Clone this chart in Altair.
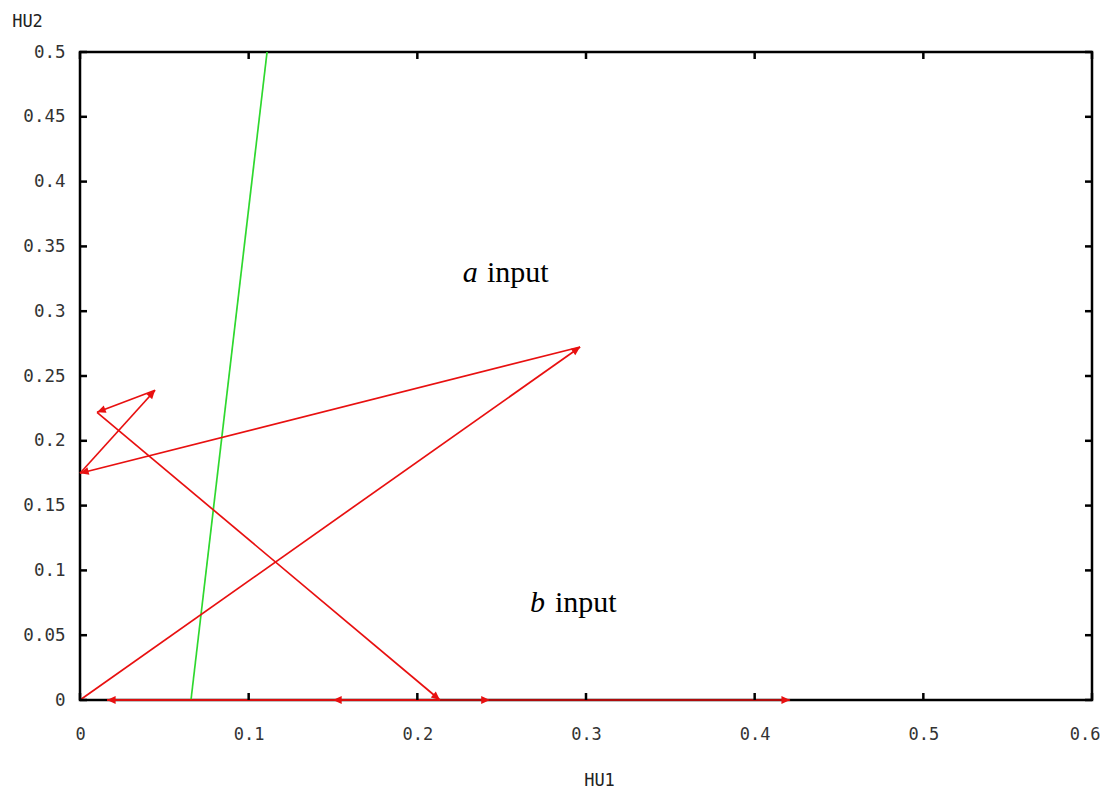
import math
import altair as alt
import pandas as pd

# ---- data ----
path_x = [0.0, 0.2965, 0.0, 0.0445, 0.0101, 0.2134, 0.150, 0.016, 0.243, 0.421]
path_y = [0.0, 0.2724, 0.175, 0.239, 0.222, 0.0, 0.0, 0.0, 0.0, 0.0]

green_x = [0.0658, 0.1109]
green_y = [0.0, 0.5]

x_ticks = [0, 0.1, 0.2, 0.3, 0.4, 0.5, 0.6]
y_ticks = [0, 0.05, 0.1, 0.15, 0.2, 0.25, 0.3, 0.35, 0.4, 0.45, 0.5]

label_italic = ["a", "b"]
label_rest = ["input", "input"]
label_x_italic = [0.227, 0.2668]
label_x_rest = [0.2413, 0.2816]
label_y = [0.3225, 0.0679]

W, H = 1012, 648
XMAX, YMAX = 0.6, 0.5
sx, sy = W / XMAX, H / YMAX

segs = pd.DataFrame({
    "x": path_x[:-1], "y": path_y[:-1],
    "x2": path_x[1:], "y2": path_y[1:],
})
segs["angle"] = [
    math.degrees(math.atan2(-(b2 - b) * sy, (a2 - a) * sx)) % 360
    for a, b, a2, b2 in zip(segs.x, segs.y, segs.x2, segs.y2)
]

xs = alt.Scale(domain=[0, XMAX], nice=False, zero=False)
ys = alt.Scale(domain=[0, YMAX], nice=False, zero=False)

mono = "DejaVu Sans Mono"

x_axis = alt.Axis(values=x_ticks, format="~g", grid=False, ticks=False, tickSize=0,
                  domain=False, labelFont=mono, labelFontSize=17, labelColor="#333",
                  labelPadding=26, labelFlush=False,
                  labelAlign={"condition": {"test": "datum.value >= 0.59", "value": "right"},
                              "value": "center"},
                  labelOffset={"condition": {"test": "datum.value >= 0.59", "value": 8},
                               "value": 0},
                  title="HU1", titleFont=mono,
                  titleFontSize=17, titleFontWeight="normal", titleColor="#222",
                  titleX=519, titleY=80, titleAlign="center", titleBaseline="middle")
y_axis = alt.Axis(values=y_ticks, format="~g", grid=False, ticks=False, tickSize=0,
                  domain=False, labelFont=mono, labelFontSize=17.5, labelColor="#333",
                  labelPadding=15, labelFlush=False, title="HU2", titleFont=mono,
                  titleFontSize=17, titleFontWeight="normal", titleColor="#222",
                  titleAngle=0, titleX=-53, titleY=-31, titleAlign="center",
                  titleBaseline="middle")

green = alt.Chart(pd.DataFrame({"x": green_x, "y": green_y})).mark_line(
    color="#2ed82e", strokeWidth=1.7
).encode(x=alt.X("x:Q", scale=xs, axis=x_axis), y=alt.Y("y:Q", scale=ys, axis=y_axis))

lines = alt.Chart(segs).mark_rule(color="#e81010", strokeWidth=1.7).encode(
    x=alt.X("x:Q", scale=xs), y=alt.Y("y:Q", scale=ys), x2="x2:Q", y2="y2:Q"
)

heads = alt.Chart(segs).mark_point(
    shape="M0,0L-1,-0.45L-1,0.45Z", filled=True, color="#e81010", opacity=1, size=300
).encode(
    x=alt.X("x2:Q", scale=xs), y=alt.Y("y2:Q", scale=ys), angle=alt.Angle("angle:Q", scale=None)
)

xt = pd.DataFrame({"v": x_ticks})
yt = pd.DataFrame({"v": y_ticks})
tk = dict(color="black", strokeWidth=2.5)
tick_b = alt.Chart(xt).mark_rule(**tk).encode(x=alt.X("v:Q", scale=xs), y=alt.value(H), y2=alt.value(H - 7))
tick_t = alt.Chart(xt).mark_rule(**tk).encode(x=alt.X("v:Q", scale=xs), y=alt.value(0), y2=alt.value(7))
tick_l = alt.Chart(yt).mark_rule(**tk).encode(y=alt.Y("v:Q", scale=ys), x=alt.value(0), x2=alt.value(7))
tick_r = alt.Chart(yt).mark_rule(**tk).encode(y=alt.Y("v:Q", scale=ys), x=alt.value(W), x2=alt.value(W - 7))

lab = pd.DataFrame({"it": label_italic, "rest": label_rest, "xi": label_x_italic,
                    "xr": label_x_rest, "y": label_y})
t_it = alt.Chart(lab).mark_text(font="Liberation Serif", fontSize=30, fontStyle="italic",
                                align="left", baseline="alphabetic", color="black").encode(
    x=alt.X("xi:Q", scale=xs), y=alt.Y("y:Q", scale=ys), text="it:N")
t_rest = alt.Chart(lab).mark_text(font="Liberation Serif", fontSize=30,
                                  align="left", baseline="alphabetic", color="black").encode(
    x=alt.X("xr:Q", scale=xs), y=alt.Y("y:Q", scale=ys), text="rest:N")

chart = alt.layer(
    green, lines, tick_b, tick_t, tick_l, tick_r, heads, t_it, t_rest
).properties(
    width=W, height=H,
    autosize=alt.AutoSizeParams(type="none"),
    padding={"left": 72, "top": 44, "right": 9, "bottom": 88},
    background="white",
).configure_view(stroke="black", strokeWidth=2.5)

chart.save("out.html", embed_options={"renderer": "svg", "actions": False})
